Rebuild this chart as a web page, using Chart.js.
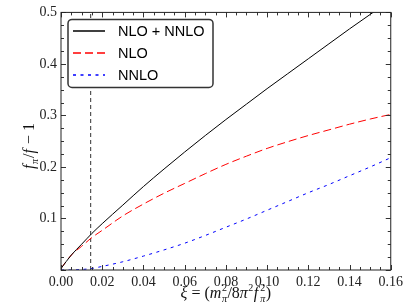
<!DOCTYPE html>
<html>
<head>
<meta charset="utf-8">
<script src="https://cdn.jsdelivr.net/npm/chart.js@4.4.0/dist/chart.umd.min.js"></script>
<style>
html, body { margin: 0; padding: 0; background: #fff; }
</style>
</head>
<body>
<canvas id="chart" width="407" height="305"></canvas>
<script>
// xi values and curves
const xi      = [0, 0.005, 0.01, 0.015, 0.02, 0.03, 0.04, 0.05, 0.06, 0.07, 0.08, 0.09, 0.10, 0.11, 0.12, 0.13, 0.14, 0.15, 0.16];
const nloNnlo = [0.003, 0.029, 0.050, 0.071, 0.090, 0.126, 0.162, 0.196, 0.229, 0.261, 0.292, 0.322, 0.352, 0.381, 0.410, 0.439, 0.468, 0.496, 0.524];
const nlo     = [0.003, 0.029, 0.046, 0.063, 0.077, 0.105, 0.128, 0.149, 0.168, 0.187, 0.205, 0.221, 0.236, 0.249, 0.261, 0.272, 0.283, 0.293, 0.302];
const nnlo    = [0, 0.000, 0.001, 0.003, 0.007, 0.016, 0.027, 0.039, 0.052, 0.067, 0.083, 0.099, 0.116, 0.133, 0.150, 0.166, 0.183, 0.200, 0.218];
const xiPhys = 0.0144;
const seriesNames = ["NLO + NNLO", "NLO", "NNLO"];
const seriesColors = ["#000000", "#ff0000", "#0000ff"];
const seriesDash = [[], [8, 4], [3, 4.5]];

function pts(ys) {
    return xi.map(function (x, i) { return { x: x, y: ys[i] }; });
}

const serif = "'Liberation Serif', 'DejaVu Serif', serif";
const sans = "'Liberation Sans', Arial, sans-serif";

// draws a list of text pieces, with super/subscripts, starting at x
function drawPieces(ctx, pieces, x, y, measureOnly) {
    let cx = x;
    pieces.forEach(function (p) {
        cx += p.pre || 0;
        if (p.stack) {
            let w = 0;
            p.stack.forEach(function (s) {
                ctx.font = s.font;
                if (!measureOnly) ctx.fillText(s.t, cx, y + s.dy);
                w = Math.max(w, ctx.measureText(s.t).width);
            });
            cx += w;
        } else {
            ctx.font = p.font;
            if (!measureOnly) ctx.fillText(p.t, cx, y + (p.dy || 0));
            cx += ctx.measureText(p.t).width;
        }
    });
    return cx - x;
}

const it16 = "italic 16px " + serif;
const rm16 = "16px " + serif;
const it10 = "italic 10px " + serif;
const rm10 = "10px " + serif;

const xTitle = [
    { t: "ξ", font: it16 },
    { t: " = (", font: rm16 },
    { t: "m", font: it16 },
    { stack: [{ t: "2", font: rm10, dy: -7 }, { t: "π", font: it10, dy: 4 }], pre: 0.5 },
    { t: "/8", font: rm16, pre: 0.5 },
    { t: "π", font: it16 },
    { t: "2", font: rm10, dy: -7, pre: 0.5 },
    { t: "f", font: it16, pre: 0.5 },
    { stack: [{ t: "2", font: rm10, dy: -7 }, { t: "π", font: it10, dy: 4 }], pre: 2 },
    { t: ")", font: rm16, pre: 0.5 }
];

const yTitle = [
    { t: "f", font: it16 },
    { t: "π", font: it10, dy: 4, pre: 0.5 },
    { t: "/", font: rm16, pre: 1 },
    { t: "f", font: it16 },
    { t: " − 1", font: rm16, pre: 1 }
];

const decorPlugin = {
    id: "decor",
    afterDatasetsDraw(chart) {
        const ctx = chart.ctx;
        const a = chart.chartArea;
        const xs = chart.scales.x;
        const ys = chart.scales.y;
        ctx.save();

        // inward ticks on all four sides
        ctx.strokeStyle = "#333";
        ctx.lineWidth = 1;
        ctx.beginPath();
        for (let i = 0; i <= 32; i++) {
            const px = Math.round(xs.getPixelForValue(i * 0.005)) + 0.5;
            const len = i % 4 === 0 ? 5 : 3;
            ctx.moveTo(px, a.bottom); ctx.lineTo(px, a.bottom - len);
            ctx.moveTo(px, a.top); ctx.lineTo(px, a.top + len);
        }
        for (let i = 0; i <= 20; i++) {
            const py = Math.round(ys.getPixelForValue(i * 0.025)) + 0.5;
            const len = i % 4 === 0 ? 5 : 3;
            ctx.moveTo(a.left, py); ctx.lineTo(a.left + len, py);
            ctx.moveTo(a.right, py); ctx.lineTo(a.right - len, py);
        }
        ctx.stroke();

        // frame
        ctx.strokeStyle = "#222";
        ctx.strokeRect(a.left, a.top, a.right - a.left, a.bottom - a.top);

        // legend box
        const lx = a.left + 7, ly = a.top + 7, lw = 145, lh = 68;
        ctx.beginPath();
        ctx.roundRect(lx, ly, lw, lh, 4);
        ctx.fillStyle = "#fff";
        ctx.fill();
        ctx.lineWidth = 1.5;
        ctx.strokeStyle = "#333";
        ctx.stroke();

        ctx.font = "14.5px " + sans;
        ctx.textBaseline = "middle";
        for (let i = 0; i < seriesNames.length; i++) {
            const ry = Math.round(ly + 12 + i * 22);
            ctx.save();
            ctx.setLineDash(seriesDash[i]);
            ctx.strokeStyle = seriesColors[i];
            ctx.lineWidth = 1.5;
            ctx.beginPath();
            ctx.moveTo(lx + 5, ry);
            ctx.lineTo(lx + 37, ry);
            ctx.stroke();
            ctx.restore();
            ctx.fillStyle = "#000";
            ctx.fillText(seriesNames[i], lx + 50, ry + 1);
        }

        // axis titles
        ctx.textBaseline = "alphabetic";
        ctx.fillStyle = "#111";
        const wx = drawPieces(ctx, xTitle, 0, 0, true);
        drawPieces(ctx, xTitle, (a.left + a.right) / 2 - wx / 2, 298, false);

        const wy = drawPieces(ctx, yTitle, 0, 0, true);
        ctx.translate(34, 146);
        ctx.rotate(-Math.PI / 2);
        drawPieces(ctx, yTitle, -wy / 2, 0, false);

        ctx.restore();
    }
};

new Chart(document.getElementById("chart"), {
    type: "line",
    data: {
        datasets: [
            {
                label: seriesNames[0],
                data: pts(nloNnlo),
                borderColor: seriesColors[0],
                borderWidth: 1,
                borderDash: seriesDash[0],
                pointRadius: 0,
                cubicInterpolationMode: "monotone"
            },
            {
                label: seriesNames[1],
                data: pts(nlo),
                borderColor: seriesColors[1],
                borderWidth: 1,
                borderDash: seriesDash[1],
                pointRadius: 0,
                cubicInterpolationMode: "monotone"
            },
            {
                label: seriesNames[2],
                data: pts(nnlo),
                borderColor: seriesColors[2],
                borderWidth: 1,
                borderDash: seriesDash[2],
                pointRadius: 0,
                cubicInterpolationMode: "monotone"
            },
            {
                label: "phys",
                data: [{ x: xiPhys, y: 0 }, { x: xiPhys, y: 0.5 }],
                borderColor: "#333",
                borderWidth: 1,
                borderDash: [4, 3],
                pointRadius: 0
            }
        ]
    },
    options: {
        responsive: false,
        animation: false,
        layout: { padding: { left: 0, right: 13, top: 6, bottom: 0 } },
        plugins: {
            legend: { display: false },
            tooltip: { enabled: false }
        },
        scales: {
            x: {
                type: "linear",
                min: 0,
                max: 0.16,
                grid: { display: false, drawTicks: false },
                border: { display: false },
                ticks: {
                    stepSize: 0.02,
                    padding: 4,
                    maxRotation: 0,
                    color: "#222",
                    font: { family: serif, size: 14 },
                    callback: function (v) { return v.toFixed(2); }
                },
                afterFit: function (s) { s.height = 35; }
            },
            y: {
                min: 0,
                max: 0.5,
                grid: { display: false, drawTicks: false },
                border: { display: false },
                ticks: {
                    stepSize: 0.1,
                    padding: 4,
                    color: "#222",
                    font: { family: serif, size: 14 },
                    callback: function (v) { return v === 0 ? "" : v.toFixed(1); }
                },
                afterFit: function (s) { s.width = 61; }
            }
        }
    },
    plugins: [decorPlugin]
});
</script>
</body>
</html>
